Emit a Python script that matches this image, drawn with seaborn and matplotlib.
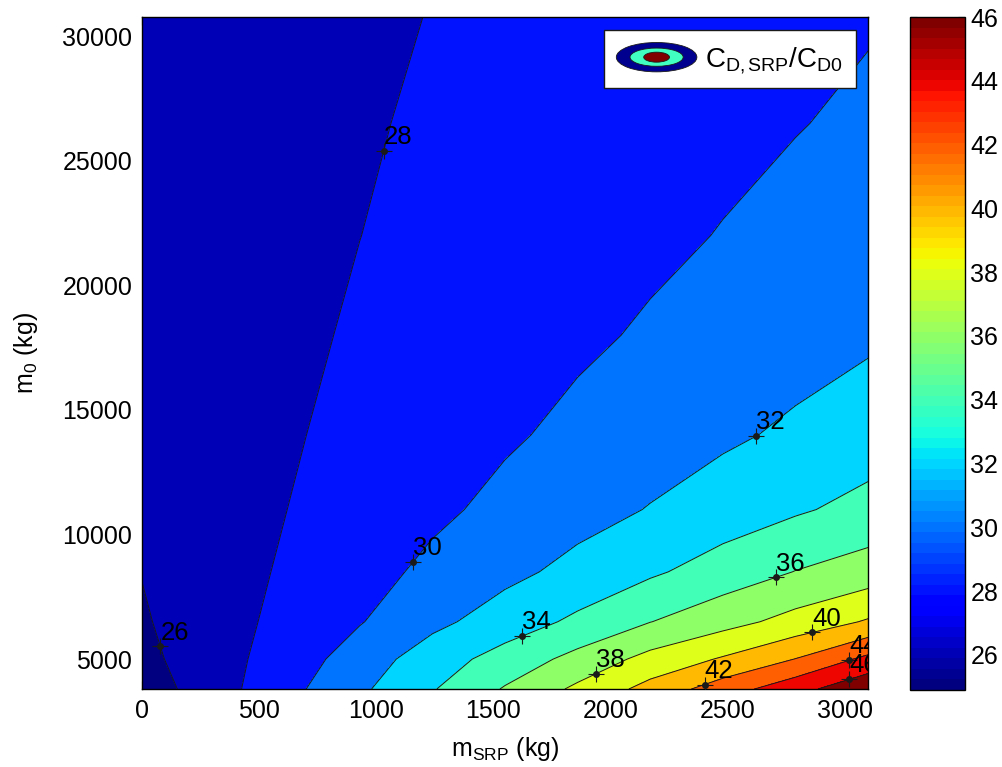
#!/usr/bin/env python3

import numpy as np
import seaborn as sns
import matplotlib as mpl
import matplotlib.pyplot as plt
from matplotlib.colors import Normalize
from matplotlib.patches import Ellipse
from matplotlib.legend_handler import HandlerBase
from matplotlib.transforms import offset_copy

# grid: m_SRP (kg) across, m0 (kg) down
m_srp = [0, 310, 620, 930, 1240, 1550, 1860, 2170, 2480, 2790, 3100]
m0 = [3800, 5000, 6500, 8500, 11000, 14000, 18000, 22000, 26500, 30750]

# C_D,SRP / C_D0, one row per m0 value
cd_ratio = [
    [24.90, 27.16, 29.42, 31.64, 33.86, 36.16, 38.39, 40.67, 43.01, 45.28, 47.60],
    [25.46, 27.21, 28.93, 30.94, 33.05, 34.78, 36.62, 38.64, 40.20, 42.04, 44.50],
    [25.80, 27.18, 28.55, 29.89, 31.50, 32.96, 34.39, 35.96, 37.28, 38.68, 40.20],
    [26.05, 27.17, 28.24, 29.33, 30.41, 31.48, 32.58, 33.71, 34.88, 36.05, 36.90],
    [26.30, 27.15, 28.00, 28.82, 29.64, 30.46, 31.28, 32.09, 32.93, 33.76, 34.60],
    [26.55, 27.19, 27.83, 28.47, 29.12, 29.77, 30.41, 31.05, 31.68, 32.33, 33.00],
    [26.67, 27.17, 27.68, 28.18, 28.69, 29.19, 29.70, 30.20, 30.70, 31.20, 31.70],
    [26.74, 27.16, 27.57, 27.99, 28.40, 28.82, 29.24, 29.65, 30.07, 30.48, 30.90],
    [26.81, 27.16, 27.50, 27.85, 28.20, 28.54, 28.89, 29.24, 29.58, 29.93, 30.28],
    [26.83, 27.13, 27.44, 27.74, 28.04, 28.35, 28.65, 28.96, 29.26, 29.56, 29.87],
]

levels = [26, 28, 30, 32, 34, 36, 38, 40, 42, 44, 46]

# rough spots where each contour carries its label
label_spots = {
    26: (83, 5520), 28: (1045, 25350), 30: (1156, 8890), 32: (2626, 13910),
    34: (1622, 5880), 36: (2712, 8090), 38: (1930, 4530), 40: (2861, 6120),
    42: (2400, 4040), 44: (3019, 4960), 46: (3019, 4240),
}

sns.set_theme(style='ticks')
plt.rcParams['font.family'] = ['Liberation Sans', 'DejaVu Sans']
plt.rcParams['mathtext.fontset'] = 'custom'
plt.rcParams['mathtext.rm'] = 'Liberation Sans'
plt.rcParams['mathtext.it'] = 'Liberation Sans:italic'
plt.rcParams['axes.linewidth'] = 1.0
plt.rcParams['axes.edgecolor'] = 'black'
plt.rcParams['axes.labelcolor'] = 'black'
plt.rcParams['text.color'] = 'black'
plt.rcParams['xtick.color'] = 'black'
plt.rcParams['ytick.color'] = 'black'

FS = 17.5

X, Y = np.meshgrid(m_srp, m0)
Z = np.array(cd_ratio)

# matlab style: each band takes the colour of its lower level
cmap = mpl.colormaps['jet'].resampled(64)
norm = Normalize(vmin=Z.min(), vmax=levels[-1])
fill_levels = [Z.min()] + levels + [Z.max()]
band_colors = [cmap(norm(v)) for v in [Z.min()] + levels]

fig = plt.figure(figsize=(10.02, 7.67), dpi=100)
ax = fig.add_axes([0.1417, 0.1017, 0.7246, 0.8755])
cax = fig.add_axes([0.908, 0.1004, 0.055, 0.8774])

ax.contourf(X, Y, Z, levels=fill_levels, colors=band_colors)
cs = ax.contour(X, Y, Z, levels=levels, colors='k', linewidths=0.7)

ax.set_xlim(0, 3100)
ax.set_ylim(3800, 30750)


def nearest_on_contour(i, spot):
    # closest point (in screen space) on contour level i to the given spot
    p = ax.transData.transform(spot)
    best, best_d = None, np.inf
    for seg in cs.allsegs[i]:
        if len(seg) < 2:
            continue
        s = ax.transData.transform(seg)
        a, b = s[:-1], s[1:]
        ab = b - a
        l2 = (ab ** 2).sum(axis=1)
        l2[l2 == 0] = 1e-12
        t = np.clip(((p - a) * ab).sum(axis=1) / l2, 0, 1)
        q = a + ab * t[:, None]
        d = ((q - p) ** 2).sum(axis=1)
        k = d.argmin()
        if d[k] < best_d:
            best_d, best = d[k], q[k]
    return ax.transData.inverted().transform(best)


# matlab clabel look: '+' marker on the line, number up and to the right
lab_tr = offset_copy(ax.transData, fig=fig, x=0, y=5, units='points')
for i, lev in enumerate(levels):
    lx, ly = nearest_on_contour(i, label_spots[lev])
    ax.plot(lx, ly, marker='+', color='k', ms=12, mew=0.8, zorder=5)
    ax.plot(lx, ly, marker='o', color='k', ms=4, zorder=5)
    ax.text(lx, ly, str(lev), fontsize=FS + 1, ha='left', va='baseline',
            transform=lab_tr, clip_on=True, zorder=6)

ax.set_xticks(range(0, 3001, 500))
ax.set_yticks(range(5000, 30001, 5000))
ax.tick_params(direction='in', top=True, right=True, length=6, width=0.8,
               labelsize=FS + 0.5, pad=7)
ax.set_xlabel(r'$\mathrm{m_{SRP}}$ (kg)', fontsize=FS + 0.5, labelpad=9)
ax.set_ylabel(r'$\mathrm{m_0}$ (kg)', fontsize=FS + 0.5, labelpad=16)


class RingsProxy:
    pass


class RingsHandler(HandlerBase):
    def create_artists(self, legend, orig_handle, xdescent, ydescent,
                       width, height, fontsize, trans):
        cx = width / 2 - xdescent
        cy = height / 2 - ydescent
        out = []
        for fw, fh, col in [(1.0, 1.0, '#00008f'), (0.66, 0.62, '#40ffc0'),
                            (0.32, 0.34, '#800000')]:
            e = Ellipse((cx, cy), width * fw, height * fh, facecolor=col,
                        edgecolor='k', linewidth=0.6, transform=trans)
            out.append(e)
        return out


leg = ax.legend([RingsProxy()], [r'$\mathrm{C_{D,SRP}/C_{D0}}$'],
                handler_map={RingsProxy: RingsHandler()},
                loc='upper right', fontsize=20, frameon=True, fancybox=False,
                framealpha=1, edgecolor='k', borderaxespad=0.45,
                handlelength=2.9, handleheight=1.25, handletextpad=0.3,
                borderpad=0.45)
leg.get_frame().set_linewidth(1.0)

sm = mpl.cm.ScalarMappable(norm=norm, cmap=cmap)
cb = fig.colorbar(sm, cax=cax, ticks=levels)
cb.outline.set_linewidth(1.0)
cax.tick_params(direction='in', left=True, right=True, length=5, width=0.8,
                labelsize=FS + 0.5, pad=4)

plt.savefig('out.png', dpi=100)
plt.close()
